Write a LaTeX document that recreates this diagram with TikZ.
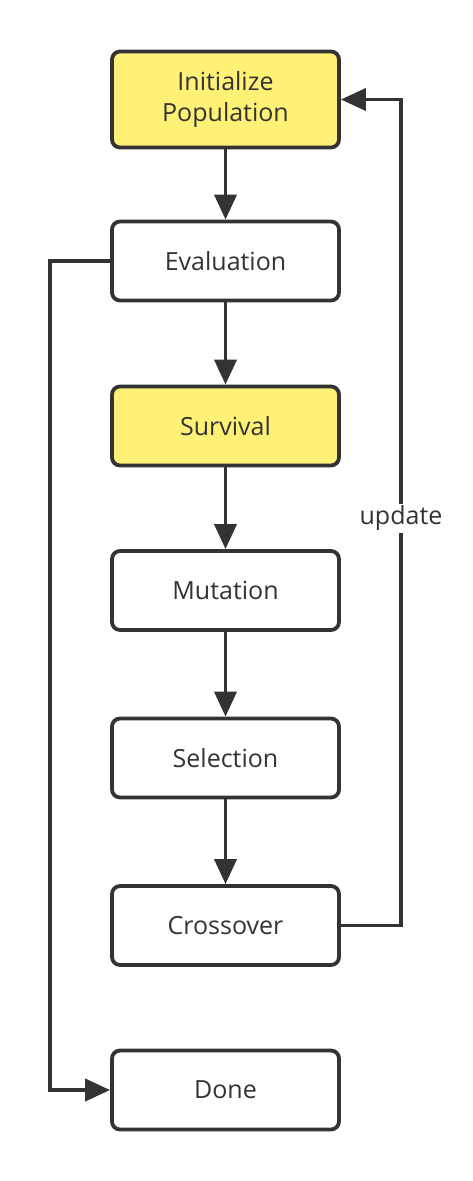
\documentclass[tikz,border=0pt]{standalone}
\usepackage{fontspec}
\setmainfont{Open Sans}
\usetikzlibrary{arrows.meta}
\definecolor{boxline}{HTML}{333333}
\definecolor{boxfill}{HTML}{FFF176}
\tikzset{
  stage/.style={draw=boxline, line width=3.8pt, rounded corners=8pt, fill=white,
    minimum width=227pt, minimum height=79pt, align=center, text=boxline,
    font=\fontsize{25}{31}\selectfont},
  hot/.style={stage, fill=boxfill},
  flow/.style={draw=boxline, line width=3.8pt, -{Triangle[length=25pt,width=22pt]}}
}
\begin{document}
\begin{tikzpicture}[x=1pt, y=-1pt]
    \useasboundingbox (0,0) rectangle (473,1181);
    % --- stages ---
    \node[hot, minimum height=96pt] (init) at (225.5,99.5) {Initialize\\Population};
    \node[stage] (eval) at (225.5,261) {Evaluation};
    \node[hot] (surv) at (225.5,426) {Survival};
    \node[stage] (mut) at (225.5,590.5) {Mutation};
    \node[stage] (sel) at (225.5,758) {Selection};
    \node[stage] (cross) at (225.5,925.5) {Crossover};
    \node[stage] (done) at (225.5,1090) {Done};
    % --- main flow ---
    \draw[flow] (init) -- (eval);
    \draw[flow] (eval) -- (surv);
    \draw[flow] (surv) -- (mut);
    \draw[flow] (mut) -- (sel);
    \draw[flow] (sel) -- (cross);
    % --- loop back ---
    \coordinate (up) at (401,99.5);
    \draw[flow] (cross.east) -| (up) -- (init.east);
    \node[fill=white, text=boxline, font=\fontsize{25}{31}\selectfont, inner sep=2pt] (upd) at (401,518) {update};
    % --- exit ---
    \coordinate (out) at (50,1090);
    \draw[flow] (eval.west) -| (out) -- (done.west);
\end{tikzpicture}
\end{document}
